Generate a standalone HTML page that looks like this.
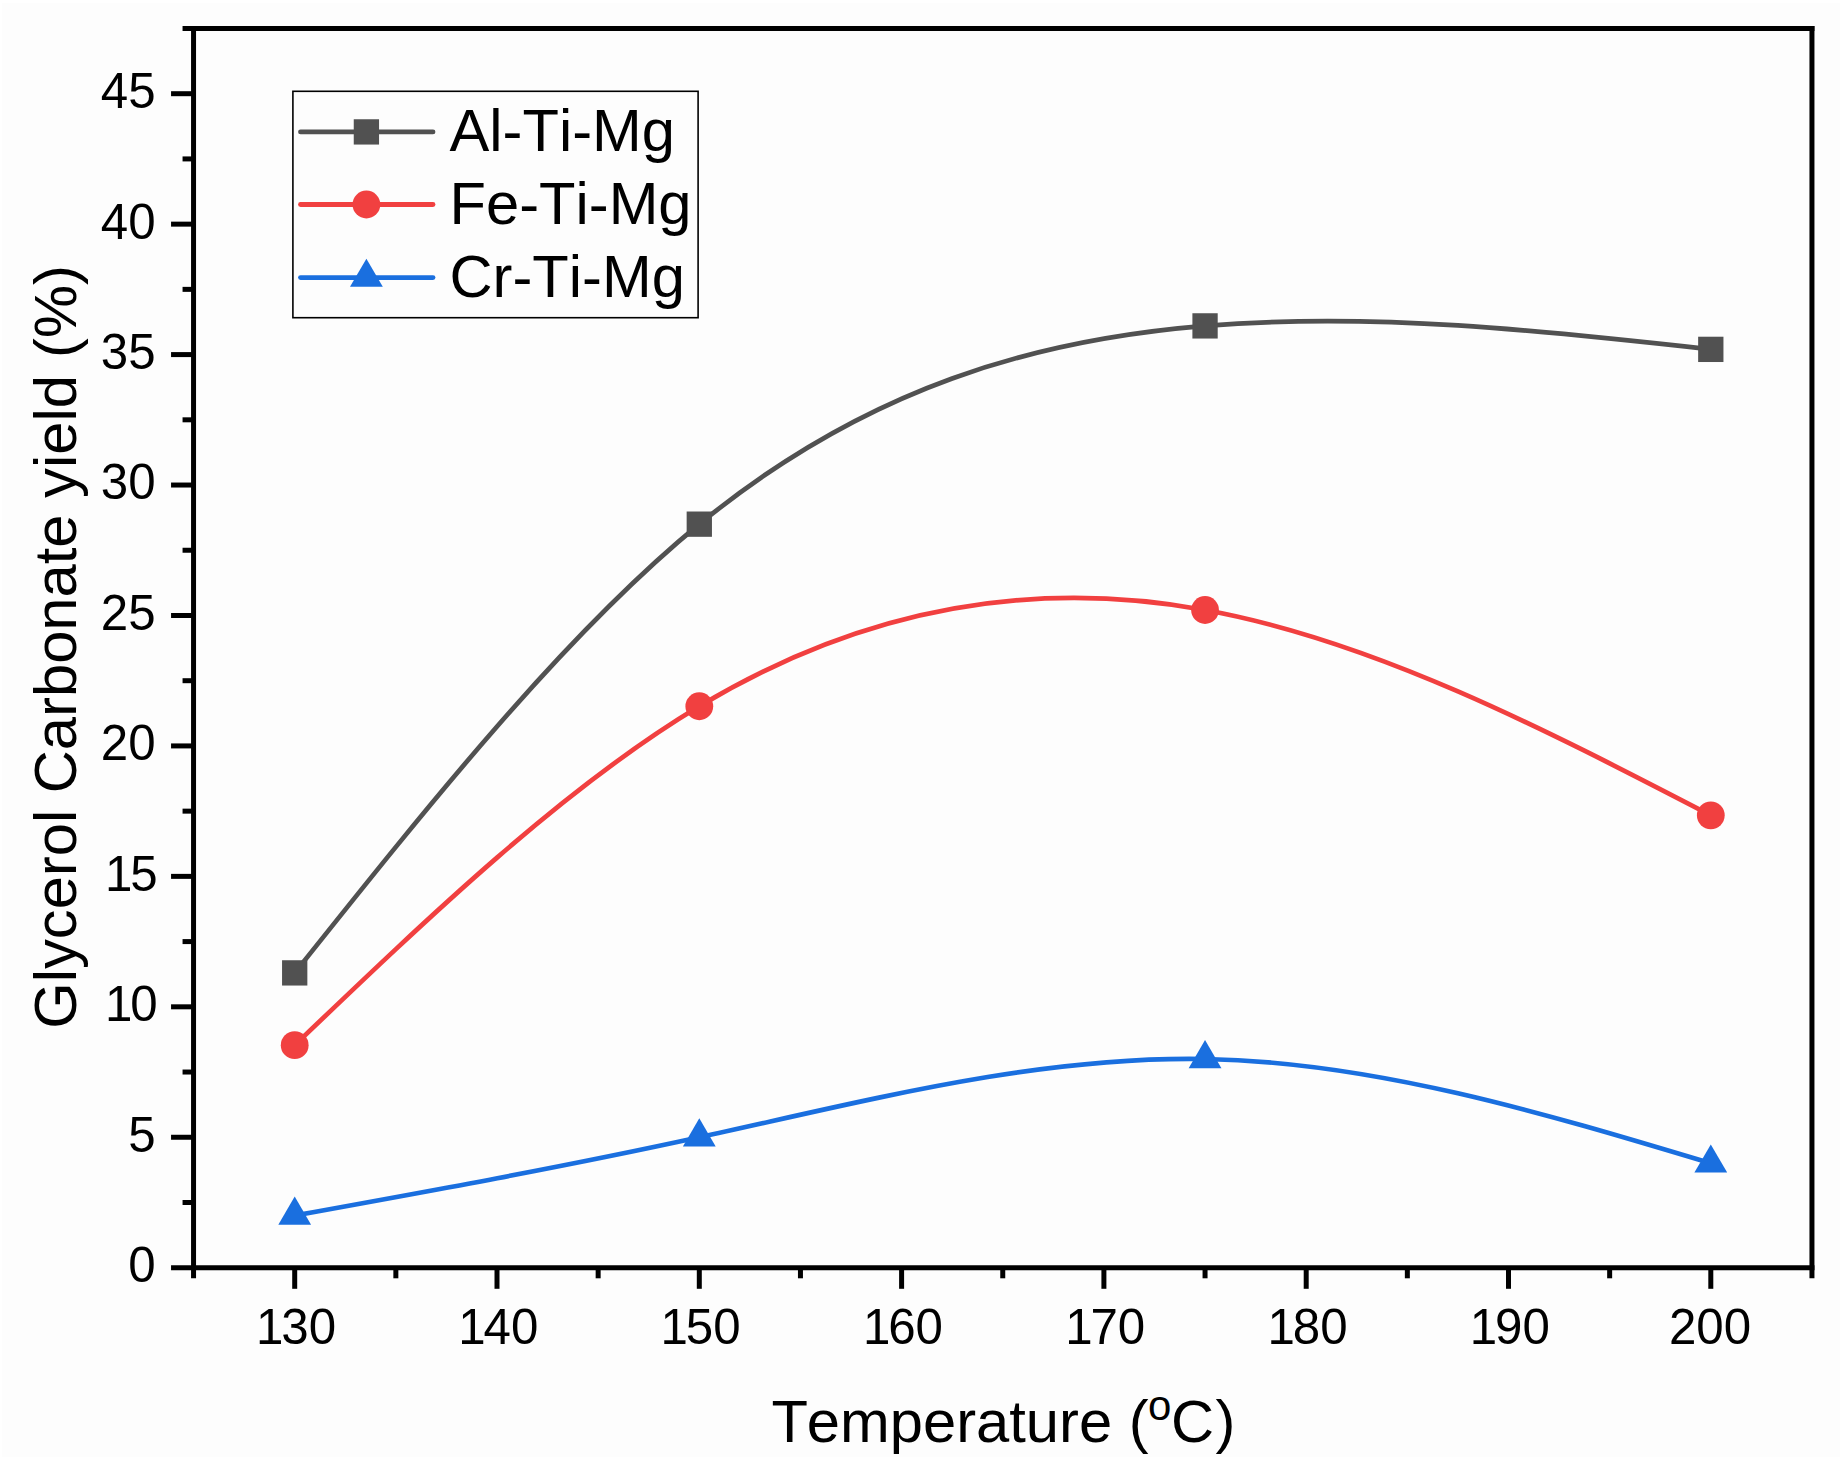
<!DOCTYPE html>
<html lang="en"><head><meta charset="utf-8"><title>Glycerol Carbonate yield vs Temperature</title>
<style>html,body{margin:0;padding:0;background:#ffffff;}body{width:1840px;height:1483px;overflow:hidden;}</style>
</head><body>
<svg width="1840" height="1483" viewBox="0 0 1840 1483" style="display:block">
<rect width="1840" height="1483" fill="#ffffff"/>
<rect x="2" y="3" width="1838" height="1454" fill="#fdfdfd"/>
<g stroke="#000" stroke-width="5" fill="none" stroke-linecap="butt">
<line x1="182.55" y1="28.47" x2="1814.45" y2="28.47"/>
<line x1="171.05" y1="1267.70" x2="1814.45" y2="1267.70"/>
<line x1="193.55" y1="25.97" x2="193.55" y2="1278.30"/>
<line x1="1811.95" y1="25.97" x2="1811.95" y2="1278.30"/>
<line x1="182.55" y1="1202.48" x2="193.55" y2="1202.48"/>
<line x1="171.05" y1="1137.26" x2="193.55" y2="1137.26"/>
<line x1="182.55" y1="1072.03" x2="193.55" y2="1072.03"/>
<line x1="171.05" y1="1006.81" x2="193.55" y2="1006.81"/>
<line x1="182.55" y1="941.59" x2="193.55" y2="941.59"/>
<line x1="171.05" y1="876.37" x2="193.55" y2="876.37"/>
<line x1="182.55" y1="811.14" x2="193.55" y2="811.14"/>
<line x1="171.05" y1="745.92" x2="193.55" y2="745.92"/>
<line x1="182.55" y1="680.70" x2="193.55" y2="680.70"/>
<line x1="171.05" y1="615.48" x2="193.55" y2="615.48"/>
<line x1="182.55" y1="550.25" x2="193.55" y2="550.25"/>
<line x1="171.05" y1="485.03" x2="193.55" y2="485.03"/>
<line x1="182.55" y1="419.81" x2="193.55" y2="419.81"/>
<line x1="171.05" y1="354.59" x2="193.55" y2="354.59"/>
<line x1="182.55" y1="289.36" x2="193.55" y2="289.36"/>
<line x1="171.05" y1="224.14" x2="193.55" y2="224.14"/>
<line x1="182.55" y1="158.92" x2="193.55" y2="158.92"/>
<line x1="171.05" y1="93.70" x2="193.55" y2="93.70"/>
<line x1="294.70" y1="1267.70" x2="294.70" y2="1288.80"/>
<line x1="395.85" y1="1267.70" x2="395.85" y2="1278.30"/>
<line x1="497.00" y1="1267.70" x2="497.00" y2="1288.80"/>
<line x1="598.15" y1="1267.70" x2="598.15" y2="1278.30"/>
<line x1="699.30" y1="1267.70" x2="699.30" y2="1288.80"/>
<line x1="800.45" y1="1267.70" x2="800.45" y2="1278.30"/>
<line x1="901.60" y1="1267.70" x2="901.60" y2="1288.80"/>
<line x1="1002.75" y1="1267.70" x2="1002.75" y2="1278.30"/>
<line x1="1103.90" y1="1267.70" x2="1103.90" y2="1288.80"/>
<line x1="1205.05" y1="1267.70" x2="1205.05" y2="1278.30"/>
<line x1="1306.20" y1="1267.70" x2="1306.20" y2="1288.80"/>
<line x1="1407.35" y1="1267.70" x2="1407.35" y2="1278.30"/>
<line x1="1508.50" y1="1267.70" x2="1508.50" y2="1288.80"/>
<line x1="1609.65" y1="1267.70" x2="1609.65" y2="1278.30"/>
<line x1="1710.80" y1="1267.70" x2="1710.80" y2="1288.80"/>
</g>
<g font-family="Liberation Sans, Arial, sans-serif" style="font-kerning:none" font-size="50.7" fill="#000">
<text transform="translate(155.6,1282.10) scale(0.972,1)" text-anchor="end">0</text>
<text transform="translate(155.6,1151.66) scale(0.972,1)" text-anchor="end">5</text>
<text transform="translate(155.6,1021.21) scale(0.972,1)" text-anchor="end" dx="2.2 -2.2">10</text>
<text transform="translate(155.6,890.76) scale(0.972,1)" text-anchor="end" dx="2.2 -2.2">15</text>
<text transform="translate(155.6,760.32) scale(0.972,1)" text-anchor="end">20</text>
<text transform="translate(155.6,629.88) scale(0.972,1)" text-anchor="end">25</text>
<text transform="translate(155.6,499.43) scale(0.972,1)" text-anchor="end">30</text>
<text transform="translate(155.6,368.99) scale(0.972,1)" text-anchor="end">35</text>
<text transform="translate(155.6,238.54) scale(0.972,1)" text-anchor="end">40</text>
<text transform="translate(155.6,108.10) scale(0.972,1)" text-anchor="end">45</text>
<text transform="translate(293.90,1343.8) scale(0.972,1)" text-anchor="middle" dx="2.2 -2.2">130</text>
<text transform="translate(496.20,1343.8) scale(0.972,1)" text-anchor="middle" dx="2.2 -2.2">140</text>
<text transform="translate(698.50,1343.8) scale(0.972,1)" text-anchor="middle" dx="2.2 -2.2">150</text>
<text transform="translate(900.80,1343.8) scale(0.972,1)" text-anchor="middle" dx="2.2 -2.2">160</text>
<text transform="translate(1103.10,1343.8) scale(0.972,1)" text-anchor="middle" dx="2.2 -2.2">170</text>
<text transform="translate(1305.40,1343.8) scale(0.972,1)" text-anchor="middle" dx="2.2 -2.2">180</text>
<text transform="translate(1507.70,1343.8) scale(0.972,1)" text-anchor="middle" dx="2.2 -2.2">190</text>
<text transform="translate(1710.00,1343.8) scale(0.972,1)" text-anchor="middle">200</text>
</g>
<text font-family="Liberation Sans, Arial, sans-serif" style="font-kerning:none" font-size="59.7" fill="#000" x="771.6" y="1442.2" dx="0 -1.2">Temperature (<tspan font-size="42" dy="-22.3" dx="-0.5">o</tspan><tspan dy="22.3" dx="-0.5">C</tspan><tspan dx="1.4">)</tspan></text>
<text font-family="Liberation Sans, Arial, sans-serif" style="font-kerning:none" font-size="59.7" fill="#000" transform="translate(76,646.9) rotate(-90)" text-anchor="middle">Glycerol Carbonate yield<tspan dx="0.7"> (%)</tspan></text>
<path d="M294.70,972.89 C429.57,803.75 564.43,634.61 699.30,524.16 C867.88,386.10 1036.47,339.74 1205.05,325.89 C1373.63,312.04 1542.22,330.70 1710.80,349.37" fill="none" stroke="#515151" stroke-width="4.7" stroke-linecap="round" stroke-linejoin="round"/>
<path d="M294.70,1045.16 C429.57,916.15 564.43,787.14 699.30,706.26 C867.88,605.17 1036.47,579.29 1205.05,610.00 C1373.63,640.71 1542.22,728.01 1710.80,815.32" fill="none" stroke="#F14040" stroke-width="4.7" stroke-linecap="round" stroke-linejoin="round"/>
<path d="M294.70,1215.52 C429.57,1191.09 564.43,1166.67 699.30,1137.26 C867.88,1100.49 1036.47,1055.94 1205.05,1058.99 C1373.63,1062.04 1542.22,1112.69 1710.80,1163.34" fill="none" stroke="#1A6FDF" stroke-width="4.7" stroke-linecap="round" stroke-linejoin="round"/>
<rect x="282.05" y="960.24" width="25.3" height="25.3" fill="#515151"/>
<rect x="686.65" y="511.51" width="25.3" height="25.3" fill="#515151"/>
<rect x="1192.40" y="313.24" width="25.3" height="25.3" fill="#515151"/>
<rect x="1698.15" y="336.72" width="25.3" height="25.3" fill="#515151"/>
<circle cx="294.70" cy="1045.16" r="13.9" fill="#F14040"/>
<circle cx="699.30" cy="706.26" r="13.9" fill="#F14040"/>
<circle cx="1205.05" cy="610.00" r="13.9" fill="#F14040"/>
<circle cx="1710.80" cy="815.32" r="13.9" fill="#F14040"/>
<polygon points="294.70,1196.62 311.10,1224.72 278.30,1224.72" fill="#1A6FDF"/>
<polygon points="699.30,1118.36 715.70,1146.46 682.90,1146.46" fill="#1A6FDF"/>
<polygon points="1205.05,1040.09 1221.45,1068.19 1188.65,1068.19" fill="#1A6FDF"/>
<polygon points="1710.80,1144.44 1727.20,1172.54 1694.40,1172.54" fill="#1A6FDF"/>
<rect x="292.9" y="91.3" width="405.2" height="226.4" fill="#fdfdfd" stroke="#000" stroke-width="1.6"/>
<line x1="300.5" y1="131.9" x2="433" y2="131.9" stroke="#515151" stroke-width="4.8" stroke-linecap="round"/>
<rect x="353.75" y="119.25" width="25.3" height="25.3" fill="#515151"/>
<text font-family="Liberation Sans, Arial, sans-serif" style="font-kerning:none" font-size="59.7" fill="#000" x="449.5" y="151.20">Al-Ti-Mg</text>
<line x1="300.5" y1="204.5" x2="433" y2="204.5" stroke="#F14040" stroke-width="4.8" stroke-linecap="round"/>
<circle cx="366.40" cy="204.50" r="13.9" fill="#F14040"/>
<text font-family="Liberation Sans, Arial, sans-serif" style="font-kerning:none" font-size="59.7" fill="#000" x="449.5" y="223.80">Fe-Ti-Mg</text>
<line x1="300.5" y1="277.6" x2="433" y2="277.6" stroke="#1A6FDF" stroke-width="4.8" stroke-linecap="round"/>
<polygon points="366.40,258.70 382.80,286.80 350.00,286.80" fill="#1A6FDF"/>
<text font-family="Liberation Sans, Arial, sans-serif" style="font-kerning:none" font-size="59.7" fill="#000" x="449.5" y="296.90">Cr-Ti-Mg</text>
</svg>
</body></html>
